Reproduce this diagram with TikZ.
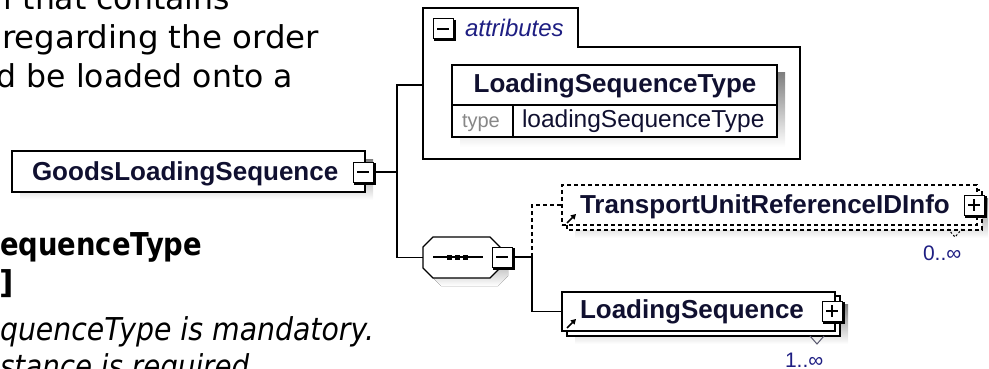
\documentclass[tikz,border=0pt]{standalone}
\usepackage{fontspec}
\setmainfont{DejaVu Sans}
\newfontfamily\xsdfont{Liberation Sans}
\usetikzlibrary{arrows.meta}
\definecolor{shade}{RGB}{192,192,192}
\definecolor{xsdname}{RGB}{16,16,48}
\definecolor{xsdblue}{RGB}{30,30,130}
\definecolor{xsdgray}{RGB}{135,135,135}
% octagon of the sequence compositor
\newcommand{\seqoctagon}{(433,237) -- (490,237) -- (500,247) -- (500,268) -- (490,278) -- (433,278) -- (423,268) -- (423,247) -- cycle}

\begin{document}
\begin{tikzpicture}[x=1pt, y=-1pt, line width=1.2pt,
  every node/.style={inner sep=0pt, outer sep=0pt},
  doctext/.style={anchor=base east, font=\fontsize{31.5}{38}\selectfont},
  elemname/.style={font=\xsdfont\bfseries\fontsize{26}{30}\selectfont, text=xsdname},
  elembox/.style={draw, fill=white, anchor=north west},
  iconbox/.style={draw, fill=white, minimum size=20pt, line width=1pt},
  occurs/.style={anchor=base west, font=\xsdfont\fontsize{21}{24}\selectfont, text=xsdblue},
  dashline/.style={dash pattern=on 4pt off 3pt}]
  \useasboundingbox (0,0) rectangle (989,369);
  \clip (0,0) rectangle (989,369);

  % ---- document text on the left (cut at the page edge) ----
  \node[doctext] (intro1) at (230,10) {l that contains};
  \node[doctext, anchor=base west] (intro2) at (2,49) {\scalebox{1.03}[1]{regarding the order}};
  \node[doctext] (intro3) at (293,88) {d be loaded onto a};
  \node[doctext, anchor=base west, font=\bfseries\fontsize{31.5}{38}\selectfont] (head1) at (0,255) {\scalebox{0.87}[1]{equenceType}};
  \node[doctext, font=\bfseries\fontsize{31.5}{38}\selectfont] (head2) at (14,293) {]};
  \node[doctext, anchor=base west, font=\itshape\fontsize{31.5}{38}\selectfont] (note1) at (0,340) {\scalebox{0.9}[1]{quenceType is mandatory.}};
  \node[doctext, anchor=base west, font=\itshape\fontsize{31.5}{38}\selectfont] (note2) at (0,377) {\scalebox{0.88}[1]{stance is required}};

  % ---- GoodsLoadingSequence ----
  \fill[shade] (20,159) rectangle (373,200);
  \node[elembox, minimum width=353pt, minimum height=41pt] (gls) at (12,151) {};
  \node[elemname, anchor=base west] (glsname) at (32,180) {GoodsLoadingSequence};
  \node[iconbox] (glsicon) at (363,172) {};

  % ---- attributes ----
  \draw (423,8) -- (578,8) -- (578,47) -- (800,47) -- (800,159) -- (423,159) -- cycle;
  \node[anchor=north west, minimum width=377pt, minimum height=154pt] (attrs) at (423,8) {};
  \node[iconbox] (attricon) at (443,29) {};
  \node[anchor=base west, font=\xsdfont\itshape\fontsize{24}{28}\selectfont, text=xsdblue] (attrlabel) at (465,37) {attributes};
  \fill[shade] (460,73) rectangle (785,147);
  \node[elembox, minimum width=325pt, minimum height=72pt] (lst) at (452,65) {};
  \draw (452,105) -- (777,105);
  \draw (513,105) -- (513,137);
  \node[elemname, anchor=base] (lstname) at (615,93) {LoadingSequenceType};
  \node[anchor=base west, font=\xsdfont\fontsize{20}{24}\selectfont, text=xsdgray] (lsttype) at (462,128) {type};
  \node[anchor=base west, font=\xsdfont\fontsize{24.5}{28}\selectfont, text=xsdname] (lsttypename) at (522,128) {loadingSequenceType};

  % ---- sequence compositor ----
  \fill[shade, shift={(8,8)}] \seqoctagon;
  \draw[fill=white] \seqoctagon;
  \node[minimum width=77pt, minimum height=41pt] (seq) at (461.5,257.5) {};
  \draw (433,257) -- (483,257);
  \foreach \sx in {449,457,465}
    \fill (\sx-2.5,254.5) rectangle (\sx+2.5,259.5);
  \node[iconbox] (seqicon) at (502,257) {};

  % ---- TransportUnitReferenceIDInfo (0..unbounded) ----
  \fill[shade] (575,198) rectangle (988,238);
  \draw[dashline, fill=white] (567,190) rectangle (982,230);
  \node[elembox, dashline, minimum width=415pt, minimum height=40pt] (tu) at (562,185) {};
  \node[elemname, anchor=base west] (tuname) at (580,213) {TransportUnitReferenceIDInfo};
  \node[iconbox] (tuicon) at (974,205) {};
  \draw[line width=1pt, dash pattern=on 2pt off 2pt] (948,229) -- (955,237) -- (962,229);
  \node[occurs] (tuocc) at (923,260) {0..∞};

  % ---- LoadingSequence (1..unbounded) ----
  \fill[shade] (575,304) rectangle (848,344);
  \draw[fill=white] (567,296) rectangle (840,336);
  \node[elembox, minimum width=273pt, minimum height=39pt] (ls) at (562,292) {};
  \node[elemname, anchor=base west] (lsname) at (580,318) {LoadingSequence};
  \node[iconbox] (lsicon) at (832,311) {};
  \draw[line width=1pt, xsdname!70] (810,336) -- (817,344) -- (824,336);
  \node[occurs] (lsocc) at (785,367) {1..∞};

  % reference arrows
  \draw[-{Triangle[length=5pt,width=5.5pt]}, line width=1.6pt] (567,223) -- (576,214);
  \draw[-{Triangle[length=5pt,width=5.5pt]}, line width=1.6pt] (567,328) -- (576,319);

  % icon edges and signs
  \foreach \ic in {glsicon,attricon,seqicon,tuicon,lsicon}
    \draw[line width=2pt] ([xshift=1.5pt,yshift=-1pt]\ic.north east) |- ([xshift=1pt,yshift=-1.5pt]\ic.south west);
  \foreach \ic in {glsicon,attricon,seqicon,tuicon,lsicon}
    \draw[line width=1.2pt] ([xshift=4pt]\ic.west) -- ([xshift=-4pt]\ic.east);
  \foreach \ic in {tuicon,lsicon}
    \draw[line width=1.2pt] ([yshift=-4pt]\ic.north) -- ([yshift=4pt]\ic.south);

  % ---- connectors ----
  \coordinate (jn) at (397,172);
  \coordinate (kn) at (532,257);
  \draw (glsicon.east) -- (jn);
  \draw (attrs.west) -| (jn) |- (seq.west);
  \draw (seqicon.east) -- (kn) |- (ls.west);
  \draw[dashline] (kn) |- (tu.west);
\end{tikzpicture}
\end{document}
